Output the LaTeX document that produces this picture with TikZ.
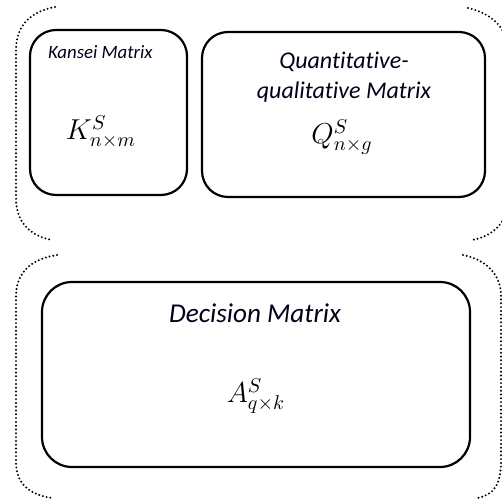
\documentclass[tikz,border=0pt]{standalone}
\usepackage{fontspec}
\newfontfamily\calib[Ligatures=NoCommon]{Carlito}
\begin{document}
\begin{tikzpicture}[x=0.5pt,y=-0.5pt,
  box/.style={draw=black, line width=1.1pt, rounded corners=13pt, inner sep=0pt},
  brk/.style={line width=1.1pt, line cap=round, dash pattern=on 0pt off 1.9pt},
  lbl/.style={text=black!90!blue, align=center},
  mth/.style={font=\Large}]
\useasboundingbox (0,0) rectangle (502,501);
\clip (0,0) rectangle (502,501);
% boxes
\node[box, minimum width=78.5pt, minimum height=82.5pt] (kbox) at (108.5,112.5) {};
\node[box, minimum width=141.5pt, minimum height=82.5pt] (qbox) at (343.5,114.5) {};
\node[box, rounded corners=15pt, minimum width=214pt, minimum height=92.5pt] (dbox) at (256,374.5) {};
% labels
\node[lbl, font=\calib\itshape\fontsize{9.4}{11}\selectfont, anchor=west] (klbl) at (41,52) {Kansei Matrix};
\node[lbl, font=\calib\itshape\fontsize{12}{15}\selectfont] (qlbl) at (344,77) {Quantitative-\\qualitative Matrix};
\node[lbl, font=\calib\itshape\fontsize{13.6}{16}\selectfont] (dlbl) at (255,313) {Decision Matrix};
\node[mth] (kmat) at (101,132) {$K^{S}_{n\times m}$};
\node[mth] (qmat) at (342,137) {$Q^{S}_{n\times g}$};
\node[mth] (amat) at (256,396) {$A^{S}_{q\times k}$};
% dotted brackets
\draw[brk] (55,7) .. controls (28,12) and (16,28) .. (16,50) -- (16,198) .. controls (16,222) and (30,236) .. (52,240);
\draw[brk] (468,8) .. controls (494,14) and (508,30) .. (508,52) -- (508,198) .. controls (508,222) and (494,236) .. (472,240);
\draw[brk] (57,255) .. controls (30,259) and (16,274) .. (16,296) -- (16,462) .. controls (16,484) and (30,495) .. (52,498);
\draw[brk] (463,255) .. controls (488,260) and (501,276) .. (501,296) -- (501,462) .. controls (501,484) and (494,495) .. (477,498);
\end{tikzpicture}
\end{document}
